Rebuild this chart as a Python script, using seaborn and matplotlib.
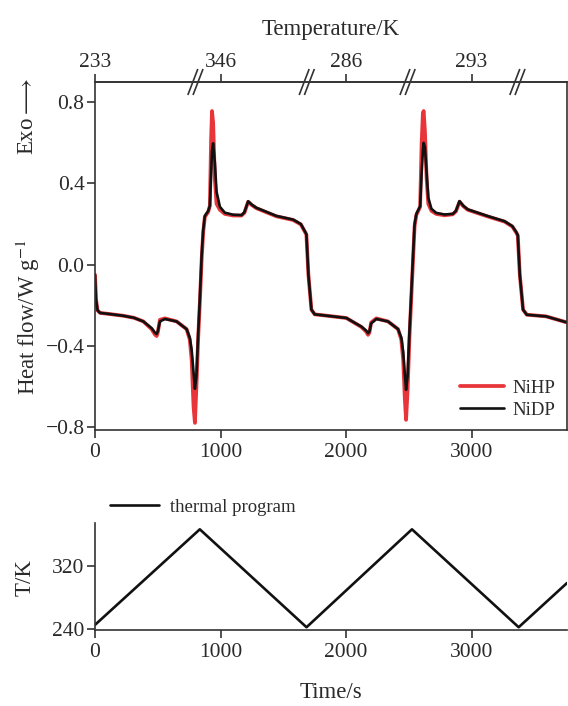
import numpy as np
import pandas as pd
import matplotlib
matplotlib.use("Agg")
import matplotlib.pyplot as plt
import seaborn as sns

# ---------------- data ----------------
time_s = [0, 8, 20, 40, 110, 225, 310, 385, 451, 478, 491, 500, 517, 557, 650, 730, 755, 770,
          785, 796, 808, 822, 835, 850, 862, 875, 902, 915, 925, 932, 941, 955, 968,
          995, 1034, 1100, 1167, 1190, 1220, 1250, 1286, 1445, 1578, 1640, 1671, 1684,
          1700, 1724, 1750, 1850, 2002, 2121, 2160, 2175, 2186, 2200, 2241, 2334, 2414, 2440,
          2455, 2468, 2478, 2490, 2505, 2519, 2534, 2546, 2560, 2590, 2602, 2612, 2618,
          2628, 2642, 2655, 2680, 2718, 2785, 2850, 2875, 2904, 2934, 2970, 3130, 3262,
          3324, 3356, 3368, 3384, 3410, 3440, 3593, 3760]

nidp = [-0.05, -0.17, -0.225, -0.238, -0.243, -0.252, -0.262, -0.28, -0.313, -0.335, -0.342, -0.33,
        -0.28, -0.268, -0.28, -0.318, -0.36, -0.42, -0.53, -0.612, -0.55, -0.34,
        -0.17, 0.05, 0.17, 0.24, 0.265, 0.29, 0.45, 0.56, 0.598, 0.5, 0.36,
        0.285, 0.256, 0.246, 0.244, 0.258, 0.312, 0.295, 0.28, 0.24, 0.222, 0.2,
        0.165, 0.15, -0.05, -0.222, -0.245, -0.252, -0.263, -0.305, -0.325, -0.338, -0.33,
        -0.29, -0.268, -0.28, -0.318, -0.36, -0.43, -0.54, -0.617, -0.55, -0.33,
        -0.15, 0.05, 0.2, 0.25, 0.288, 0.45, 0.56, 0.6, 0.58, 0.45, 0.33,
        0.275, 0.255, 0.247, 0.25, 0.265, 0.313, 0.29, 0.272, 0.239, 0.214,
        0.19, 0.16, 0.145, -0.05, -0.222, -0.247, -0.255, -0.285]

nihp = [-0.05, -0.17, -0.225, -0.238, -0.243, -0.252, -0.262, -0.28, -0.318, -0.345, -0.352, -0.335,
        -0.272, -0.265, -0.28, -0.318, -0.37, -0.47, -0.7, -0.78, -0.6, -0.36,
        -0.19, 0.03, 0.16, 0.235, 0.26, 0.29, 0.62, 0.757, 0.7, 0.42, 0.3,
        0.27, 0.25, 0.242, 0.242, 0.255, 0.31, 0.293, 0.278, 0.238, 0.22, 0.198,
        0.163, 0.148, -0.05, -0.222, -0.245, -0.252, -0.263, -0.307, -0.33, -0.346, -0.335,
        -0.285, -0.265, -0.28, -0.318, -0.37, -0.47, -0.66, -0.765, -0.62, -0.36,
        -0.17, 0.03, 0.19, 0.245, 0.285, 0.6, 0.745, 0.757, 0.66, 0.42, 0.3,
        0.265, 0.25, 0.243, 0.248, 0.262, 0.31, 0.288, 0.27, 0.237, 0.212,
        0.188, 0.158, 0.143, -0.05, -0.222, -0.247, -0.255, -0.285]

prog_time = [0, 835, 1685, 2525, 3375, 3760]
prog_temp = [245, 366, 242, 366, 242, 298]

top_tick_times = [0, 1000, 2000, 3000]
top_tick_labels = ["233", "346", "286", "293"]
break_times = [800, 1687, 2490, 3365]

# ---------------- style ----------------
sns.set_theme(style="ticks")
plt.rcParams["font.family"] = ["Liberation Serif", "DejaVu Serif"]
plt.rcParams["mathtext.fontset"] = "stix"
TXT = "#2a2a2a"
SP = "#333333"
plt.rcParams.update({
    "text.color": TXT, "axes.labelcolor": TXT,
    "xtick.color": SP, "ytick.color": SP,
    "xtick.labelcolor": TXT, "ytick.labelcolor": TXT,
    "axes.edgecolor": SP, "axes.linewidth": 1.2,
    "xtick.major.width": 1.2, "ytick.major.width": 1.2,
    "xtick.major.size": 5.5, "ytick.major.size": 5.5,
    "xtick.labelsize": 15.5, "ytick.labelsize": 15.5,
    "xtick.major.pad": 3, "ytick.major.pad": 2,
})

W, H = 568, 706
fig = plt.figure(figsize=(W / 100, H / 100), dpi=100)
ax1 = fig.add_axes([95 / W, 1 - 430 / H, (567 - 95) / W, (430 - 82) / H])
ax2 = fig.add_axes([95 / W, 1 - 630 / H, (567 - 95) / W, (630 - 523) / H])

df = pd.DataFrame({"time": time_s, "NiHP": nihp, "NiDP": nidp})
sns.lineplot(data=df, x="time", y="NiHP", ax=ax1, color="#e8353a", lw=2.7,
             sort=False, estimator=None, label="NiHP")
sns.lineplot(data=df, x="time", y="NiDP", ax=ax1, color="#111111", lw=1.9,
             sort=False, estimator=None, label="NiDP")

ax1.set_xlim(0, 3760)
ax1.set_ylim(-0.815, 0.9)
ax1.set_yticks([-0.8, -0.4, 0.0, 0.4, 0.8])
ax1.set_yticklabels(["\u22120.8", "\u22120.4", "0.0", "0.4", "0.8"])
ax1.set_xticks([0, 1000, 2000, 3000])
ax1.set_xlabel("")
ax1.set_ylabel("")
ax1.tick_params(axis="x", pad=4)

leg = ax1.legend(loc="lower right", frameon=False, fontsize=13.5,
                 handlelength=2.3, handletextpad=0.5, labelspacing=0.25,
                 borderaxespad=0.2, bbox_to_anchor=(1.0, 0.0))
for t in leg.get_texts():
    t.set_color(TXT)

top = ax1.secondary_xaxis("top")
top.set_xticks(top_tick_times, labels=top_tick_labels)
top.tick_params(axis="x", labelsize=15.5, pad=2)
top.set_xlabel("Temperature/K", fontsize=16.5, labelpad=13)

# axis-break marks on the top axis
ax_w_px = (567 - 95)
ax_h_px = (430 - 82)
xr = 3760.0
trans = ax1.get_xaxis_transform()
for bt in break_times:
    for off in (-2.6, 2.6):
        x0 = bt + (off - 5) * xr / ax_w_px
        x1 = bt + (off + 5) * xr / ax_w_px
        ax1.plot([x0, x1], [1 - 13 / ax_h_px, 1 + 13 / ax_h_px], transform=trans,
                 color=SP, lw=1.2, clip_on=False, solid_capstyle="butt")

# y labels
fig.text(28 / W, 1 - 117 / H, "Exo$\\longrightarrow$", rotation=90, ha="center", va="center",
         fontsize=16.5, color=TXT)
fig.text(28 / W, 1 - 317 / H, "Heat flow/W g$^{-1}$", rotation=90, ha="center",
         va="center", fontsize=16.5, color=TXT)

# bottom panel
dfp = pd.DataFrame({"time": prog_time, "T": prog_temp})
sns.lineplot(data=dfp, x="time", y="T", ax=ax2, color="#111111", lw=1.9,
             sort=False, estimator=None, label="thermal program")
ax2.set_xlim(0, 3760)
ax2.set_ylim(238.5, 374)
ax2.set_yticks([240, 320])
ax2.set_xticks([0, 1000, 2000, 3000])
ax2.set_ylabel("")
ax2.set_xlabel("Time/s", fontsize=16.5, labelpad=14)
ax2.tick_params(axis="x", pad=4)
sns.despine(ax=ax2)
leg2 = ax2.legend(loc="center left", frameon=False, fontsize=13.5,
                  handlelength=2.6, handletextpad=0.6,
                  bbox_to_anchor=(93 / W, 1 - 507 / H),
                  bbox_transform=fig.transFigure)
for t in leg2.get_texts():
    t.set_color(TXT)
fig.text(25 / W, 1 - 578 / H, "T/K", rotation=90, ha="center", va="center",
         fontsize=16.5, color=TXT)

fig.savefig("out.png", dpi=100)
